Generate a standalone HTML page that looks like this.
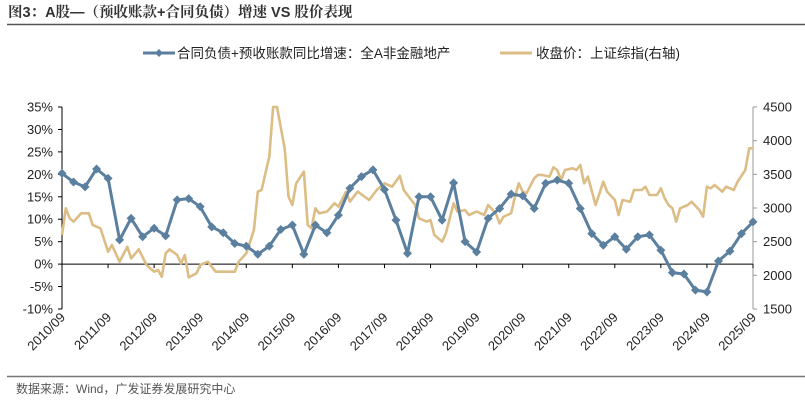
<!DOCTYPE html>
<html><head><meta charset="utf-8"><style>
body{margin:0;background:#fff;width:805px;height:400px;overflow:hidden;font-family:"Liberation Sans","Noto Sans CJK SC",sans-serif}
svg{position:absolute;left:0;top:0}
</style></head><body>
<svg id="c" width="805" height="400">
<text x="8" y="17" font-size="14.5" font-weight="bold" fill="#333" font-family="Liberation Sans,Noto Serif CJK SC,serif">图3：A股—（预收账款+合同负债）增速 VS 股价表现</text>
<line x1="7" y1="24.5" x2="805" y2="24.5" stroke="#555" stroke-width="1.5"/>
<line x1="7" y1="376.5" x2="805" y2="376.5" stroke="#777" stroke-width="1.5"/>
<text x="16" y="393" font-size="12" fill="#555">数据来源：Wind，广发证券发展研究中心</text>
<g>
<g>
<line x1="143" y1="53" x2="175" y2="53" stroke="#5b7f9e" stroke-width="3"/>
<path d="M159 49 L163 53 L159 57 L155 53Z" fill="#5b7f9e"/>
<text x="177" y="58" font-size="13.5" fill="#222">合同负债+预收账款同比增速：全A非金融地产</text></g>
<g>
<line x1="500" y1="53" x2="532" y2="53" stroke="#dcbd85" stroke-width="3"/>
<text x="536" y="58" font-size="13.5" fill="#222">收盘价：上证综指(右轴)</text></g>
</g>
<g id="axes"></g><g id="marks"></g>
</svg>
<script>
const leftTicks=[35,30,25,20,15,10,5,0,-5,-10];
const rightTicks=[4500,4000,3500,3000,2500,2000,1500];
const xLabels=["2010/09","2011/09","2012/09","2013/09","2014/09","2015/09","2016/09","2017/09","2018/09","2019/09","2020/09","2021/09","2022/09","2023/09","2024/09","2025/09"];
// quarterly growth (%), 2010Q3..2025Q3
const growth=[20.2,18.3,17.2,21.2,19.1,5.4,10.2,6.1,8.0,6.3,14.3,14.6,12.8,8.3,7.0,4.6,4.0,2.2,4.0,7.7,8.7,2.2,8.7,7.0,10.9,16.9,19.5,21.0,16.6,9.8,2.4,15.0,15.0,9.8,18.1,5.0,2.7,10.2,12.4,15.6,15.2,12.4,18.0,18.7,18.0,12.4,6.8,4.2,6.1,3.3,6.1,6.5,3.1,-1.9,-2.2,-5.8,-6.2,0.7,2.9,6.8,9.4];
// index: month offsets from 2010/09 and closing values
const idxMonths=[0,1,2,3,5,7,8,10,12,13,15,17,18,20,22,24,25,26,27,28,30,31,32,33,35,36,38,40,42,45,46,48,50,51,52,54,55,56,58,59,60,61,63,64,65,66,67,69,71,72,74,75,77,80,82,84,86,88,89,91,92,93,95,96,97,99,100,102,103,105,106,108,110,111,113,114,115,117,118,119,120,121,123,124,125,127,128,129,130,131,133,134,135,136,137,139,141,142,144,145,146,148,149,151,152,153,155,156,157,158,159,160,161,163,164,166,167,168,169,170,172,173,175,176,178,179,180];
const idxValues=[2600,2995,2847,2797,2921,2921,2747,2699,2351,2450,2202,2425,2252,2386,2153,2054,2079,1980,2327,2386,2302,2178,2302,1970,2030,2153,2202,2054,2054,2054,2202,2327,2673,3243,3268,3763,4500,4500,3885,3169,3045,3367,3540,2747,2699,2995,2921,2946,3070,3020,3243,3094,3243,3119,3268,3367,3317,3476,3268,3119,3045,2847,2797,2822,2599,2500,2624,3070,2946,2970,2896,2946,2896,3045,2921,2772,2871,2921,3169,3367,3243,3218,3441,3491,3491,3466,3605,3565,3416,3565,3590,3565,3639,3367,3466,3045,3391,3243,3119,2896,3119,3094,3268,3268,3317,3193,3193,3292,3144,3045,2995,2797,2995,3045,3094,2970,2871,3317,3292,3342,3243,3317,3268,3391,3565,3887,3886];
const X0=62,X1=753,Y0=107,Y1=309;
const NS='http://www.w3.org/2000/svg';
const xm=m=>X0+(X1-X0)*m/180;
const yl=v=>Y0+(35-v)/45*(Y1-Y0);
const yr=v=>Y0+(4500-v)/3000*(Y1-Y0);
function mk(t,a,p){const e=document.createElementNS(NS,t);for(const k in a)e.setAttribute(k,a[k]);p.appendChild(e);return e;}
const ax=document.getElementById('axes'),mg=document.getElementById('marks');
let e=mk('line',{x1:X0,y1:Y0,x2:X0,y2:Y1,stroke:'#000','stroke-width':1},ax);


e=mk('line',{x1:X1,y1:Y0,x2:X1,y2:Y1,stroke:'#999','stroke-width':1},ax);


e=mk('line',{x1:X0,y1:yl(0),x2:X1,y2:yl(0),stroke:'#000','stroke-width':1},ax);


leftTicks.forEach(v=>{const y=yl(v);
mk('line',{x1:X0-4,y1:y,x2:X0,y2:y,stroke:'#000'},ax);
const t=mk('text',{x:X0-9,y:y+4.5,'font-size':13,'text-anchor':'end',fill:'#222'},ax);t.textContent=v+'%';

});
rightTicks.forEach(v=>{const y=yr(v);
mk('line',{x1:X1,y1:y,x2:X1+4,y2:y,stroke:'#999'},ax);
const t=mk('text',{x:X1+10,y:y+4.5,'font-size':13,fill:'#222'},ax);t.textContent=v;

});
xLabels.forEach((s,i)=>{const x=xm(i*12);
mk('line',{x1:x,y1:yl(0),x2:x,y2:yl(0)+4,stroke:'#000'},ax);
const t=mk('text',{x:x+4,y:318,'font-size':13,'text-anchor':'end',fill:'#222',transform:`rotate(-45 ${x+4} 318)`},ax);t.textContent=s;

});
let d=idxMonths.map((m,i)=>(i?'L':'M')+xm(m).toFixed(1)+' '+Math.max(Y0,yr(idxValues[i])).toFixed(1)).join('');
e=mk('path',{d:d,fill:'none',stroke:'#dcbd85','stroke-width':2.6,'stroke-linejoin':'round'},mg);


d=growth.map((v,i)=>(i?'L':'M')+xm(i*3).toFixed(1)+' '+yl(v).toFixed(1)).join('');
e=mk('path',{d:d,fill:'none',stroke:'#5b7f9e','stroke-width':3,'stroke-linejoin':'round'},mg);


growth.forEach((v,i)=>{const x=xm(i*3),y=yl(v);
const p=mk('path',{d:`M${x} ${y-4.5}L${x+4.5} ${y}L${x} ${y+4.5}L${x-4.5} ${y}Z`,fill:'#5b7f9e'},mg);

});
</script>
</body></html>
